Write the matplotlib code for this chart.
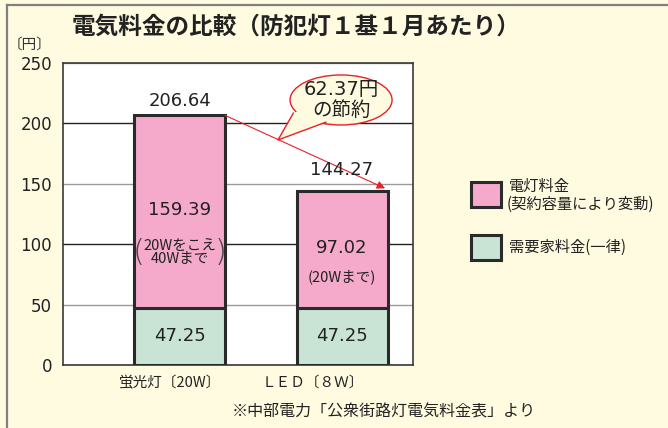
import matplotlib
matplotlib.use("Agg")
import matplotlib.pyplot as plt
from matplotlib.patches import Ellipse, Polygon, Rectangle
from matplotlib.lines import Line2D

plt.rcParams['font.family'] = ['DejaVu Sans', 'Noto Sans CJK JP']

# ---- data ----
categories = ["蛍光灯〔20W〕", "ＬＥＤ〔８Ｗ〕"]
base_fee = [47.25, 47.25]          # 需要家料金（一律）
energy_fee = [159.39, 97.02]       # 電灯料金（契約容量により変動）
totals = [206.64, 144.27]
sub_notes = ["20Wをこえ\n40Wまで", "(20Wまで)"]
saving = 62.37
yticks = [0, 50, 100, 150, 200, 250]

W, H = 668, 428
BG = "#FFFBE0"
PINK = "#F5A9CB"
GREEN = "#C9E4D4"
EDGE = "#2A2A2A"
JP = ['Noto Sans CJK JP', 'DejaVu Sans']

fig = plt.figure(figsize=(W / 100, H / 100), dpi=100, facecolor=BG)

def fx(px):
    return px / W

def fy(py):
    return 1 - py / H

# frame lines of the figure (top & left)
fig.add_artist(Line2D([fx(7), 1], [fy(5), fy(5)], color="#808080", lw=1.6))
fig.add_artist(Line2D([fx(7), fx(7)], [fy(5), 0], color="#808080", lw=1.6))

ax = fig.add_axes([fx(63), fy(365), 350 / W, 302 / H])
ax.set_facecolor("white")
ax.set_xlim(-0.718, 1.437)
ax.set_ylim(0, 250)
ax.set_yticks(yticks)
ax.set_yticklabels([str(v) for v in yticks], fontsize=12, color="#222222")
ax.tick_params(axis='y', length=0, pad=8)
ax.set_xticks([])
for s in ax.spines.values():
    s.set_color("#3a3a3a")
    s.set_linewidth(1.2)

ax.grid(axis='y', lw=1.0)
for i, gl in enumerate(ax.get_ygridlines()):
    gl.set_color("#222222" if yticks[i] % 100 == 0 else "#9a9a9a")
ax.set_axisbelow(True)

x = [0, 1]
bw = 0.56
ax.bar(x, base_fee, width=bw, color=GREEN, edgecolor=EDGE, linewidth=2.2, zorder=3)
ax.bar(x, energy_fee, width=bw, bottom=base_fee, color=PINK, edgecolor=EDGE,
       linewidth=2.2, zorder=3)

# red arrow from bar1 top-right to bar2 top-right
ax.annotate("", xy=(1 + bw / 2 - 0.015, totals[1] + 2), xytext=(bw / 2, totals[0]),
            arrowprops=dict(arrowstyle="-|>", color="#E8202A", lw=0.8,
                            mutation_scale=12, shrinkA=0, shrinkB=0), zorder=4)

# total labels
total_off = [12, 17]
for xi, t, o in zip(x, totals, total_off):
    ax.text(xi, t + o, f"{t:.2f}", ha='center', va='center', fontsize=13,
            color="#222222", zorder=6)

# segment labels
for xi, b in zip(x, base_fee):
    ax.text(xi, b / 2, f"{b:.2f}", ha='center', va='center', fontsize=13,
            color="#222222", zorder=6)
for xi, b, e in zip(x, base_fee, energy_fee):
    ax.text(xi, b + e / 2 + 1, f"{e:.2f}", ha='center', va='center', fontsize=13,
            color="#222222", zorder=6)

ax.text(0, 93, sub_notes[0], ha='center', va='center', fontsize=10.5,
        family=JP, linespacing=0.95, color="#222222", zorder=6)
ax.text(-0.255, 93, "(", ha='center', va='center', fontsize=22, color="#444444",
        fontweight='light', zorder=6)
ax.text(0.255, 93, ")", ha='center', va='center', fontsize=22, color="#444444",
        fontweight='light', zorder=6)
ax.text(1, 72.8, sub_notes[1], ha='center', va='center', fontsize=10.5,
        family=JP, color="#222222", zorder=6)

# speech bubble
ecx, ecy, ew, eh = 0.994, 219.4, 0.628, 41.4
tail = [(0.70, 208.5), (0.606, 186.3), (0.90, 201.0)]
ell = Ellipse((ecx, ecy), ew, eh, facecolor=BG, edgecolor="#E8202A", lw=1.0,
              zorder=7, clip_on=False)
ax.add_patch(ell)
ax.add_patch(Polygon([(0.76, 212), tail[0], tail[1], tail[2], (0.90, 206)],
                     closed=True, facecolor=BG, edgecolor='none', zorder=8,
                     clip_on=False))
ax.plot([tail[0][0], tail[1][0], tail[2][0]], [tail[0][1], tail[1][1], tail[2][1]],
        color="#E8202A", lw=1.0, zorder=9, clip_on=False)
ax.text(ecx, ecy + 8.5, f"{saving:.2f}円", ha='center', va='center', fontsize=14,
        color="#222222", zorder=10)
ax.text(ecx, ecy - 8.5, "の節約", ha='center', va='center', fontsize=14,
        family=JP, color="#222222", zorder=10)

# category labels
for cat, px in zip(categories, [170, 313]):
    fig.text(fx(px), fy(383), cat, ha='center', va='center', fontsize=10.5,
             family=JP, color="#222222")

# title and units
fig.text(fx(296), fy(27), "電気料金の比較（防犯灯１基１月あたり）", ha='center',
         va='center', fontsize=17, family=JP, fontweight='bold', color="#222222")
fig.text(fx(30), fy(45), "〔円〕", ha='center', va='center', fontsize=10.5,
         family=JP, color="#333333")
fig.text(fx(384), fy(412), "※中部電力「公衆街路灯電気料金表」より", ha='center',
         va='center', fontsize=11.5, family=JP, color="#222222")

# legend
for (y0, col) in [(182, PINK), (235, GREEN)]:
    fig.add_artist(Rectangle((fx(471), fy(y0 + 25)), 30 / W, 25 / H,
                             facecolor=col, edgecolor=EDGE, lw=2.2))
fig.text(fx(509), fy(186), "電灯料金", ha='left', va='center', fontsize=11,
         family=JP, color="#222222")
fig.text(fx(507), fy(204), "(契約容量により変動)", ha='left', va='center',
         fontsize=11, family=JP, color="#222222")
fig.text(fx(509), fy(247), "需要家料金(一律)", ha='left', va='center',
         fontsize=11, family=JP, color="#222222")

fig.savefig("out.png", dpi=100, facecolor=BG)
